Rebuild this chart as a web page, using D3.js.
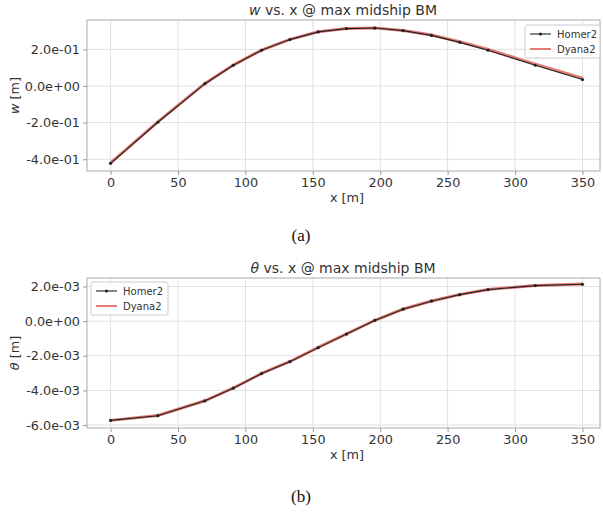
<!DOCTYPE html>
<html><head><meta charset="utf-8">
<script src="https://cdn.jsdelivr.net/npm/d3@7"></script>
<style>body{margin:0;background:#fff}svg{display:block}</style>
</head><body>
<script>
const xPos = [0, 35, 70, 91, 112, 133, 154, 175, 196, 217, 238, 259, 280, 315, 350];
const wHomer = [-0.422, -0.198, 0.0125, 0.113, 0.195, 0.253, 0.295, 0.313, 0.316, 0.302, 0.276, 0.238, 0.195, 0.113, 0.035];
const wDyana = [-0.420, -0.196, 0.014, 0.114, 0.196, 0.254, 0.296, 0.314, 0.317, 0.303, 0.278, 0.241, 0.199, 0.119, 0.043];
const tHomer = [-0.00573, -0.00546, -0.0046, -0.00387, -0.00303, -0.00234, -0.00153, -0.00075, 0.00004, 0.00069, 0.00115, 0.00153, 0.00182, 0.00205, 0.00213];
const tDyana = [-0.00573, -0.00545, -0.0046, -0.00386, -0.00302, -0.00233, -0.00152, -0.00074, 0.00005, 0.0007, 0.00116, 0.00154, 0.00183, 0.00206, 0.00214];
const xTicks = [0, 50, 100, 150, 200, 250, 300, 350];
const wTicks = [-0.4, -0.2, 0.0, 0.2];
const tTicks = [-0.006, -0.004, -0.002, 0.0, 0.002];
const seriesNames = ["Homer2", "Dyana2"];

const svg = d3.select("body").append("svg").attr("width", 603).attr("height", 512);
const font = "DejaVu Sans, sans-serif";
const red = "#e27b74";

function fmt(v){
  if (v === 0) return "0.0e+00";
  const e = Math.floor(Math.log10(Math.abs(v)) + 1e-9);
  const m = v / Math.pow(10, e);
  const es = (e < 0 ? "-" : "+") + String(Math.abs(e)).padStart(2, "0");
  return m.toFixed(1) + "e" + es;
}

function panel(o){
  const g = svg.append("g");
  const x = d3.scaleLinear().domain([-17.5, 363]).range([87, 600]);
  const y = d3.scaleLinear().domain(o.yDomain).range([o.bottom, o.top]);
  g.selectAll(".gx").data(xTicks).enter().append("line")
    .attr("x1", d=>x(d)).attr("x2", d=>x(d)).attr("y1", o.top).attr("y2", o.bottom)
    .attr("stroke", "#e0e0e0").attr("stroke-width", 1);
  g.selectAll(".gy").data(o.yTicks).enter().append("line")
    .attr("x1", 87).attr("x2", 600).attr("y1", d=>y(d)).attr("y2", d=>y(d))
    .attr("stroke", "#e0e0e0").attr("stroke-width", 1);
  const ax = g.append("g").attr("transform", `translate(0,${o.bottom})`)
    .call(d3.axisBottom(x).tickValues(xTicks).tickSize(4).tickPadding(3).tickFormat(d3.format("d")));
  const ay = g.append("g").attr("transform", `translate(87,0)`)
    .call(d3.axisLeft(y).tickValues(o.yTicks).tickSize(4).tickPadding(3).tickFormat(fmt));
  [ax, ay].forEach(a => {
    a.select(".domain").remove();
    a.selectAll("line").attr("stroke", "#999");
    a.selectAll("text").attr("font-family", font).attr("font-size", 12.8).attr("fill", "#333");
  });
  g.append("rect").attr("x", 87).attr("y", o.top).attr("width", 513).attr("height", o.bottom - o.top)
    .attr("fill", "none").attr("stroke", "#aaa").attr("stroke-width", 1);
  const line = (vals) => d3.line().x((d,i)=>x(xPos[i])).y(d=>y(d))(vals);
  g.append("path").attr("d", line(o.dyana)).attr("fill", "none").attr("stroke", red).attr("stroke-width", 3);
  g.append("path").attr("d", line(o.homer)).attr("fill", "none").attr("stroke", "#222").attr("stroke-width", 1.1);
  g.selectAll(".pt").data(o.homer).enter().append("circle")
    .attr("cx", (d,i)=>x(xPos[i])).attr("cy", d=>y(d)).attr("r", 1.6).attr("fill", "#222");
  const t = g.append("text").attr("x", 343).attr("y", o.top - 5).attr("text-anchor", "middle")
    .attr("font-family", font).attr("font-size", 14).attr("fill", "#333");
  t.append("tspan").attr("font-style", "italic").text(o.sym);
  t.append("tspan").text(" vs. x @ max midship BM");
  g.append("text").attr("x", 347).attr("y", o.bottom + 31).attr("text-anchor", "middle")
    .attr("font-family", font).attr("font-size", 12.8).attr("fill", "#333").text("x [m]");
  const yl = g.append("text").attr("transform", `translate(19,${(o.top+o.bottom)/2}) rotate(-90)`)
    .attr("text-anchor", "middle").attr("font-family", font).attr("font-size", 12.8).attr("fill", "#333");
  yl.append("tspan").attr("font-style", "italic").text(o.sym);
  yl.append("tspan").text(" [m]");
  const L = o.legend;
  g.append("rect").attr("x", L.x).attr("y", L.y).attr("width", L.w).attr("height", 33).attr("rx", 2)
    .attr("fill", "#fff").attr("fill-opacity", 0.85).attr("stroke", "#ccc");
  seriesNames.forEach((n, i) => {
    const yy = L.y + 9 + i * 15;
    if (i === 0) {
      g.append("line").attr("x1", L.x + 5).attr("x2", L.x + 26).attr("y1", yy).attr("y2", yy).attr("stroke", "#222").attr("stroke-width", 1.1);
      g.append("circle").attr("cx", L.x + 15.5).attr("cy", yy).attr("r", 1.6).attr("fill", "#222");
    } else {
      g.append("line").attr("x1", L.x + 5).attr("x2", L.x + 26).attr("y1", yy).attr("y2", yy).attr("stroke", red).attr("stroke-width", 2);
    }
    g.append("text").attr("x", L.x + 32).attr("y", yy + 3.5).attr("font-family", font).attr("font-size", 10)
      .attr("fill", "#333").text(n);
  });
  svg.append("text").attr("x", 301).attr("y", o.caption).attr("text-anchor", "middle")
    .attr("font-family", "Liberation Serif, Times New Roman, serif").attr("font-size", 17).attr("fill", "#111").text(o.capText);
}

panel({top: 20, bottom: 171, yDomain: [-0.464, 0.36], yTicks: wTicks, homer: wHomer, dyana: wDyana,
  sym: "w", legend: {x: 525, y: 25, w: 75}, caption: 241, capText: "(a)"});
panel({top: 278, bottom: 428, yDomain: [-0.00617, 0.00249], yTicks: tTicks, homer: tHomer, dyana: tDyana,
  sym: "θ", legend: {x: 91, y: 282, w: 77}, caption: 502, capText: "(b)"});
</script>
</body></html>
